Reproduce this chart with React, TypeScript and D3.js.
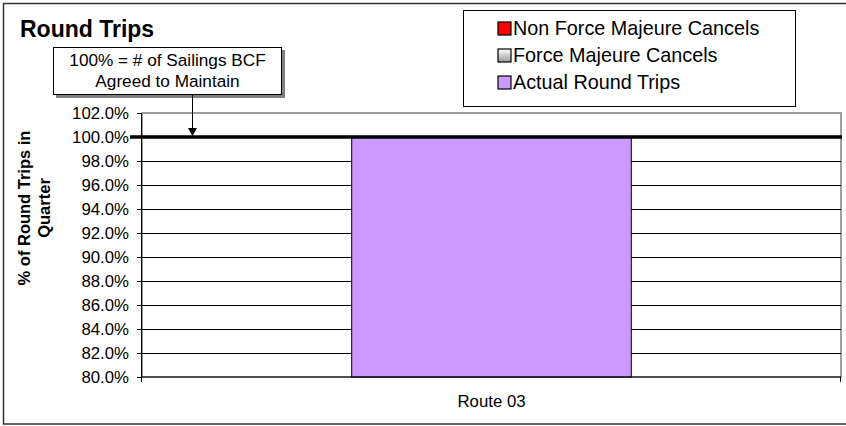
import React from "react";
import * as d3 from "d3";

const categories = ["Route 03"];
const actualRoundTrips = [100.0];
const forceMajeureCancels = [0];
const nonForceMajeureCancels = [0];
const yTicks = [80, 82, 84, 86, 88, 90, 92, 94, 96, 98, 100, 102];
const targetLevel = 100;

const legendItems = [
  { label: "Non Force Majeure Cancels", fill: "#FF0000" },
  { label: "Force Majeure Cancels", fill: "url(#fmGrad)" },
  { label: "Actual Round Trips", fill: "#CC99FF" },
];

const W = 846;
const H = 426;
const plot = { left: 142, right: 841, top: 113, bottom: 377 };
const font = "Arial, 'Liberation Sans', Helvetica, sans-serif";

const App = () => {
  const x = d3
    .scaleBand()
    .domain(categories)
    .range([plot.left, plot.right])
    .paddingInner(0.6)
    .paddingOuter(0.3);
  const y = d3.scaleLinear().domain([80, 102]).range([plot.bottom, plot.top]);

  const stacked = categories.map((c, i) => {
    const a = actualRoundTrips[i];
    const f = forceMajeureCancels[i];
    const n = nonForceMajeureCancels[i];
    return [
      { key: "actual", y0: 80, y1: a, fill: "#CC99FF" },
      { key: "fm", y0: a, y1: a + f, fill: "url(#fmGrad)" },
      { key: "nfm", y0: a + f, y1: a + f + n, fill: "#FF0000" },
    ];
  });

  const arrowX = 192;

  return (
    <svg
      width={W}
      height={H}
      style={{ position: "absolute", left: 0, top: 0 }}
      fontFamily={font}
    >
      <defs>
        <linearGradient id="fmGrad" x1="0" y1="0" x2="0" y2="1">
          <stop offset="0" stopColor="#ffffff" />
          <stop offset="1" stopColor="#999999" />
        </linearGradient>
      </defs>
      <rect x={0} y={0} width={W} height={H} fill="#fff" />
      {/* outer chart border */}
      <rect x={3.5} y={3.5} width={W + 10} height={420.5} fill="none" stroke="#333" strokeWidth={1.5} />

      {/* plot area */}
      <rect
        x={plot.left}
        y={plot.top}
        width={plot.right - plot.left}
        height={plot.bottom - plot.top}
        fill="#fff"
        stroke="#808080"
        strokeWidth={1.5}
      />
      {yTicks
        .filter((t) => t > 80 && t < 102 && t !== targetLevel)
        .map((t) => (
          <line
            key={t}
            x1={plot.left}
            x2={plot.right}
            y1={Math.round(y(t)) + 0.5}
            y2={Math.round(y(t)) + 0.5}
            stroke="#000"
            strokeWidth={1}
          />
        ))}

      {/* bars */}
      {categories.map((c, i) =>
        stacked[i]
          .filter((s) => s.y1 > s.y0)
          .map((s) => (
            <rect
              key={c + s.key}
              x={x(c)}
              y={y(s.y1)}
              width={x.bandwidth()}
              height={y(s.y0) - y(s.y1)}
              fill={s.fill}
              stroke="#000"
              strokeWidth={1}
            />
          ))
      )}

      {/* y axis */}
      <line x1={plot.left - 0.5} x2={plot.left - 0.5} y1={plot.top} y2={plot.bottom + 5} stroke="#000" />
      {yTicks.map((t) => (
        <g key={t}>
          <line
            x1={plot.left - 5}
            x2={plot.left}
            y1={Math.round(y(t)) + 0.5}
            y2={Math.round(y(t)) + 0.5}
            stroke="#000"
          />
          <text
            x={129}
            y={y(t)}
            dy="0.35em"
            textAnchor="end"
            fontSize={16.8}
            fill="#000"
          >
            {t.toFixed(1) + "%"}
          </text>
        </g>
      ))}
      {/* x axis */}
      <line x1={plot.left} x2={plot.right} y1={plot.bottom} y2={plot.bottom} stroke="#000" />
      {[plot.left - 0.5, plot.right - 0.5].map((tx) => (
        <line key={tx} x1={tx} x2={tx} y1={plot.bottom} y2={plot.bottom + 5} stroke="#000" />
      ))}
      {categories.map((c) => (
        <text
          key={c}
          x={(x(c) ?? 0) + x.bandwidth() / 2}
          y={407}
          textAnchor="middle"
          fontSize={16.8}
        >
          {c}
        </text>
      ))}

      {/* 100% target line */}
      <line x1={130} x2={842} y1={y(targetLevel)} y2={y(targetLevel)} stroke="#000" strokeWidth={3.5} />

      {/* title */}
      <text x={20} y={37} fontSize={23} fontWeight="bold">
        Round Trips
      </text>

      {/* y axis title */}
      <text
        transform="translate(30,208) rotate(-90)"
        textAnchor="middle"
        fontSize={16.5}
        fontWeight="bold"
      >
        <tspan x={0} y={0}>% of Round Trips in</tspan>
        <tspan x={0} y={20}>Quarter</tspan>
      </text>

      {/* annotation */}
      <rect x={56} y={50} width={229} height={48} fill="#808080" />
      <rect x={53.5} y={47.5} width={228} height={47} fill="#fff" stroke="#000" strokeWidth={1} />
      <text x={167.5} y={66} textAnchor="middle" fontSize={17.2}>
        100% = # of Sailings BCF
      </text>
      <text x={167.5} y={87} textAnchor="middle" fontSize={17.2}>
        Agreed to Maintain
      </text>
      <line x1={arrowX + 0.5} x2={arrowX + 0.5} y1={95} y2={y(targetLevel) - 8} stroke="#000" strokeWidth={1} />
      <path
        d={`M${arrowX - 4},${y(targetLevel) - 9} L${arrowX + 5},${y(targetLevel) - 9} L${arrowX + 0.5},${y(targetLevel) - 1} Z`}
        fill="#000"
      />

      {/* legend */}
      <rect x={463.5} y={10.5} width={332} height={96} fill="#fff" stroke="#000" strokeWidth={1} />
      {legendItems.map((d, i) => (
        <g key={d.label} transform={`translate(0,${i * 27})`}>
          <rect x={498} y={22} width={13} height={13} fill={d.fill} stroke="#000" strokeWidth={1.2} />
          <text x={513} y={34.5} fontSize={19.8}>
            {d.label}
          </text>
        </g>
      ))}
    </svg>
  );
};

export default App;
